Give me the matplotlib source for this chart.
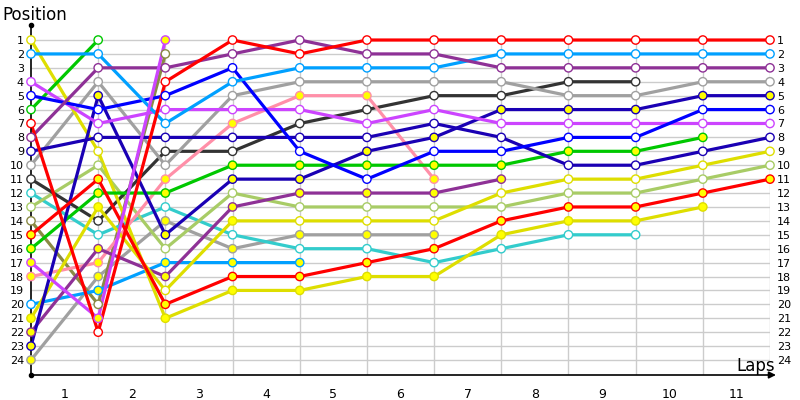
import matplotlib.pyplot as plt

# positions per lap (index 0 = start), one list per car
yellow_a = [1, 9, 21, 19, 19, 18, 18, 15, 14, 14, 13]
yellow_b = [21, 13, 19, 14, 14, 14, 14, 12, 11, 11, 10, 9]
lblue_a = [2, 2, 7, 4, 3, 3, 3, 2, 2, 2, 2, 2]
lblue_b = [20, 19, 17, 17, 17]
green_a = [6, 1]
green_b = [16, 12, 12, 10, 10, 10, 10, 10, 9, 9, 8]
magenta_a = [4, 7, 6, 6, 6, 7, 6, 7, 7, 7, 7, 7]
magenta_b = [17, 21, 1]
blue = [5, 6, 5, 3, 9, 11, 9, 9, 8, 8, 6, 6]
red_a = [7, 22, 4, 1, 2, 1, 1, 1, 1, 1, 1, 1]
red_b = [15, 11, 20, 18, 18, 17, 16, 14, 13, 13, 12, 11]
purple_a = [8, 3, 3, 2, 1, 2, 2, 3, 3, 3, 3, 3]
purple_b = [22, 16, 18, 13, 12, 12, 12, 11]
dblue_a = [9, 8, 8, 8, 8, 8, 7, 8, 10, 10, 9, 8]
dblue_b = [23, 5, 15, 11, 11, 9, 8, 6, 6, 6, 5, 5]
gray_a = [10, 4, 10, 5, 4, 4, 4, 4, 5, 5, 4, 4]
gray_b = [24, 18, 14, 16, 15, 15, 15]
black = [11, 14, 9, 9, 7, 6, 5, 5, 4, 4]
cyan = [12, 15, 13, 15, 16, 16, 17, 16, 15, 15]
ygreen = [13, 10, 16, 12, 13, 13, 13, 13, 12, 12, 11, 10]
olive = [14, 20, 2]
pink = [18, 17, 11, 7, 5, 5, 11]

# laps where the marker is drawn yellow (pit stop)
yellow_a_pit = [2, 3, 4, 5, 6, 7, 8, 9, 10]
yellow_b_pit = [0, 1, 3]
lblue_b_pit = [1, 2, 3, 4]
green_b_pit = list(range(11))
magenta_b_pit = [0, 1, 2]
red_b_pit = list(range(12))
purple_b_pit = list(range(8))
dblue_b_pit = list(range(12))
gray_b_pit = list(range(7))
pink_pit = list(range(7))

n_laps = 11
n_pos = 24

cars = [
    (gray_b, "#a0a0a0", gray_b_pit),
    (olive, "#8a8a44", []),
    (cyan, "#33cccc", []),
    (ygreen, "#a8cc66", []),
    (black, "#333333", []),
    (pink, "#ff8fa8", pink_pit),
    (gray_a, "#a0a0a0", []),
    (lblue_b, "#00a0ff", lblue_b_pit),
    (purple_b, "#8e3196", purple_b_pit),
    (yellow_b, "#dede00", yellow_b_pit),
    (yellow_a, "#dede00", yellow_a_pit),
    (green_a, "#00c800", []),
    (green_b, "#00c800", green_b_pit),
    (dblue_a, "#1a00b4", []),
    (dblue_b, "#1a00b4", dblue_b_pit),
    (magenta_a, "#cc44ff", []),
    (blue, "#0000ff", []),
    (lblue_a, "#00a0ff", []),
    (purple_a, "#8e3196", []),
    (red_b, "#ff0000", red_b_pit),
    (magenta_b, "#cc44ff", magenta_b_pit),
    (red_a, "#ff0000", []),
]

fig = plt.figure(figsize=(8, 4), dpi=100)
ax = fig.add_axes([31 / 800, 25 / 400, 739 / 800, 350 / 400])

top = 1 - 15 / 13.9
bottom = n_pos + 15 / 13.9
ax.set_xlim(0, n_laps)
ax.set_ylim(bottom, top)

# grid
ax.hlines(range(1, n_pos + 1), 0, n_laps, color="#cccccc", lw=1, zorder=0)
ax.vlines(range(1, n_laps + 1), 1, bottom, color="#cccccc", lw=1, zorder=0)

for pos, col, pits in cars:
    laps = list(range(len(pos)))
    ax.plot(laps, pos, color=col, lw=2.3, zorder=2, solid_capstyle="round")
    faces = ["#ffff00" if i in pits else "white" for i in laps]
    ax.scatter(laps, pos, s=36, facecolors=faces, edgecolors=col,
               linewidths=1.0, zorder=3, clip_on=False)

ax.set_yticks(range(1, n_pos + 1))
ax.set_yticklabels([str(i) for i in range(1, n_pos + 1)])
ax.tick_params(axis="y", length=0, labelsize=8, pad=5,
               labelleft=True, labelright=True)
ax.set_xticks([i - 0.5 for i in range(1, n_laps + 1)])
ax.set_xticklabels([str(i) for i in range(1, n_laps + 1)])
ax.tick_params(axis="x", length=0, labelsize=9, pad=9)

for s in ["top", "right", "bottom"]:
    ax.spines[s].set_visible(False)
ax.spines["left"].set_linewidth(1.2)

# bottom axis with arrow
ax.annotate("", xy=(n_laps + 0.13, bottom), xytext=(0, bottom),
            xycoords="data", annotation_clip=False,
            arrowprops=dict(arrowstyle="-|>", color="black", lw=1.2,
                            mutation_scale=10))
ax.plot([0, 0], [top, bottom], "o", color="black", ms=3, clip_on=False, zorder=5)

fig.text(2 / 800, 1 - 15 / 400, "Position", fontsize=12, va="center", ha="left")
fig.text(775 / 800, 1 - 366 / 400, "Laps", fontsize=12, va="center", ha="right")

fig.savefig("out.png", dpi=100)
